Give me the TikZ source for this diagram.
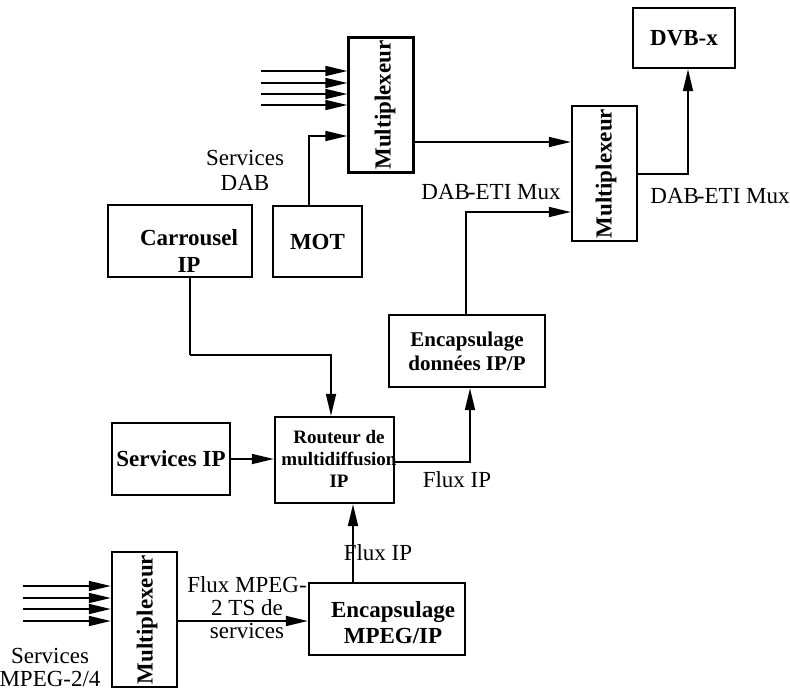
\documentclass[tikz,border=0pt]{standalone}
\usepackage{fontspec}
\setmainfont{Liberation Serif}
\usetikzlibrary{arrows.meta}
\begin{document}
\begin{tikzpicture}[x=1pt,y=-1pt,
  blk/.style={draw,line width=2.4pt,inner sep=0pt,align=center,
    font=\bfseries\fontsize{23}{27}\selectfont},
  mux/.style={blk,minimum width=65pt,minimum height=135pt},
  muxtext/.style={rotate=90,inner sep=0pt,font=\bfseries\fontsize{23}{27}\selectfont},
  lbl/.style={inner sep=0pt,align=center,font=\fontsize{23}{24}\selectfont},
  link/.style={line width=1.7pt},
  flow/.style={link,-{Triangle[length=22pt,width=10pt]}}]
\useasboundingbox (0,0) rectangle (790,691);

% blocks
\node[mux] (m1) at (381,105) {};
\node[muxtext] (m1t) at (385,105) {Multiplexeur};
\node[mux] (m2) at (604.5,173.5) {};
\node[muxtext] (m2t) at (606,173.5) {Multiplexeur};
\node[mux] (m3) at (144.5,619.5) {};
\node[muxtext] (m3t) at (147,619.5) {Multiplexeur};
\node[blk,minimum width=102pt,minimum height=60pt] (dvb) at (684,38) {DVB-x};
\node[blk,minimum width=144pt,minimum height=72pt] (carr) at (180,241) {};
\node[inner sep=0pt,align=center,font=\bfseries\fontsize{23}{27}\selectfont] (carrt) at (189,251) {Carrousel\\IP};
\node[blk,minimum width=89pt,minimum height=71pt] (mot) at (317.5,241.5) {MOT};
\node[blk,minimum width=118pt,minimum height=72pt] (sip) at (171,459) {Services IP};
\node[blk,minimum width=119pt,minimum height=86pt] (rout) at (334.5,460) {};
\node[inner sep=0pt,align=center,font=\bfseries\fontsize{19}{22}\selectfont] (routt) at (339,459) {Routeur de\\multidiffusion\\IP};
\node[blk,minimum width=156pt,minimum height=72pt,font=\bfseries\fontsize{21}{24}\selectfont] (encd) at (467,351) {Encapsulage\\données IP/P};
\node[blk,minimum width=156pt,minimum height=72pt] (encm) at (387,619) {};
\node[inner sep=0pt,align=center,font=\bfseries\fontsize{23}{26}\selectfont] (encmt) at (393,623) {Encapsulage\\MPEG/IP};

% free ends of the input bundles and the bend of the carrousel line
\coordinate (a1) at (261,71);
\coordinate (a2) at (261,83);
\coordinate (a3) at (261,94);
\coordinate (a4) at (261,105);
\coordinate (b1) at (23,586);
\coordinate (b2) at (23,598);
\coordinate (b3) at (23,609);
\coordinate (b4) at (23,621);
\coordinate (cb) at (190,355);

% connectors
\foreach \p in {a1,a2,a3,a4} \draw[flow] (\p) -- (\p -| m1.west);
\foreach \p in {b1,b2,b3,b4} \draw[flow] (\p) -- (\p -| m3.west);
\draw[flow] (mot.north -| 309,0) |- (m1.west |- 0,136);
\draw[flow] (m1.east |- 0,142) -- (m2.west |- 0,142);
\draw[flow] (m2.east |- 0,174) -| (dvb.south -| 688,0);
\draw[link] (carr.south -| cb) -- (cb);
\draw[flow] (cb) -| (rout.north -| 331,0);
\draw[flow] (sip.east) -- (rout.west |- sip.east);
\draw[flow] (rout.east |- 0,462) -| (encd.south -| 470,0);
\draw[flow] (encd.north -| 466,0) |- (m2.west |- 0,212);
\draw[flow] (encm.north -| 353,0) -- (rout.south -| 353,0);
\draw[flow] (m3.east |- 0,621) -- (encm.west |- 0,621);

% labels
\node[lbl,font=\fontsize{23}{25}\selectfont] (ldab) at (245,170) {Services\\DAB};
\node[lbl] (leti1) at (491,192) {DAB\kern-2pt-ETI Mux};
\node[lbl] (leti2) at (720,196) {DAB\kern-2pt-ETI Mux};
\node[lbl] (lip1) at (457,480) {Flux IP};
\node[lbl] (lip2) at (378,553) {Flux IP};
\node[lbl,font=\fontsize{23}{23}\selectfont] (lts) at (247,608) {Flux MPEG-\\2 TS de\\services};
\node[lbl,font=\fontsize{23}{23}\selectfont] (lmpeg) at (50,667) {Services\\MPEG-2/4};
\end{tikzpicture}
\end{document}
